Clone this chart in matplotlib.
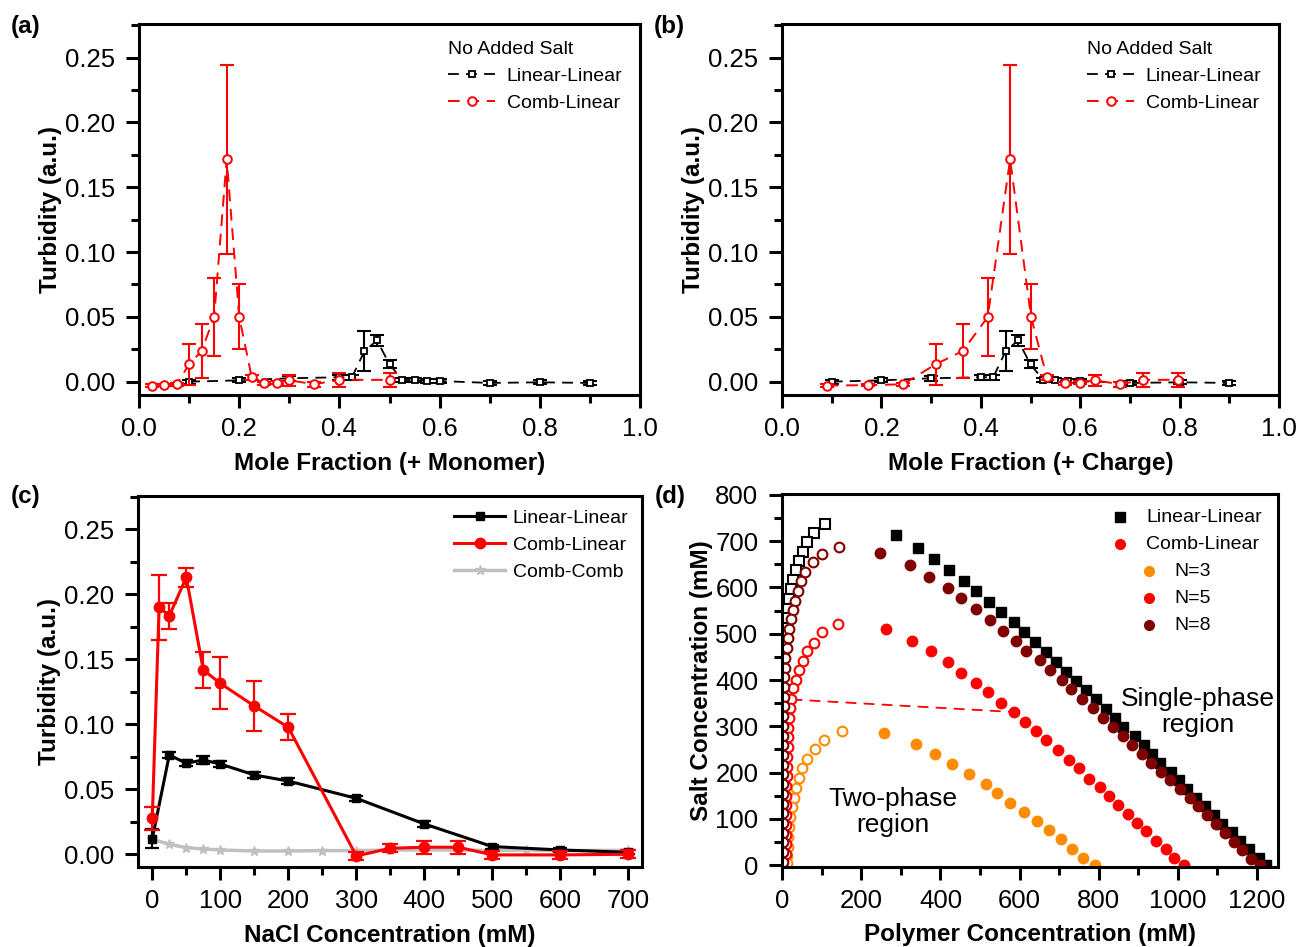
import matplotlib
matplotlib.use("Agg")
import matplotlib.pyplot as plt
from matplotlib.ticker import MultipleLocator, FormatStrFormatter

plt.rcParams['font.family'] = ['Liberation Sans', 'DejaVu Sans']

# ---- panels (a) and (b): no added salt ----
frac_ll = [0.1, 0.2, 0.3, 0.4, 0.425, 0.45, 0.475, 0.5, 0.525, 0.55, 0.575, 0.6, 0.7, 0.8, 0.9]
turb_ll = [0.0, 0.001, 0.0026, 0.0034, 0.0034, 0.0235, 0.0318, 0.0134, 0.0015, 0.001, 0.0008, 0.0005, -0.001, -0.0005, -0.001]
err_ll = [0.0015, 0.0015, 0.002, 0.002, 0.002, 0.0155, 0.0045, 0.003, 0.0015, 0.0015, 0.0015, 0.0015, 0.0015, 0.0015, 0.0015]

monomer_cl = [0.025, 0.05, 0.075, 0.1, 0.125, 0.15, 0.175, 0.2, 0.225, 0.25, 0.275, 0.3, 0.35, 0.4, 0.5]
charge_cl = [0.09, 0.174, 0.244, 0.309, 0.364, 0.414, 0.459, 0.501, 0.533, 0.569, 0.600, 0.630, 0.680, 0.727, 0.797]
turb_cl = [-0.003, -0.0027, -0.002, 0.0134, 0.0237, 0.050, 0.1716, 0.050, 0.0034, -0.0013, -0.0008, 0.001, -0.002, 0.0014, 0.0014]
err_cl = [0.001, 0.001, 0.001, 0.016, 0.021, 0.030, 0.073, 0.025, 0.002, 0.001, 0.001, 0.0045, 0.002, 0.0055, 0.0055]

# ---- panel (c): turbidity vs NaCl ----
nacl_ll = [0, 25, 50, 75, 100, 150, 200, 300, 400, 500, 600, 700]
turb_ll_c = [0.012, 0.0763, 0.070, 0.0725, 0.0694, 0.061, 0.0563, 0.043, 0.0233, 0.0059, 0.0033, 0.0015]
err_ll_c = [0.0075, 0.0025, 0.0025, 0.003, 0.0025, 0.002, 0.002, 0.002, 0.002, 0.0015, 0.0015, 0.0015]

nacl_cl = [0, 10, 25, 50, 75, 100, 150, 200, 300, 350, 400, 450, 500, 600, 700]
turb_cl_c = [0.0277, 0.190, 0.1834, 0.2129, 0.1417, 0.1314, 0.114, 0.0976, -0.0013, 0.0046, 0.0054, 0.0054, -0.0005, -0.0005, 0.0]
err_cl_c = [0.009, 0.025, 0.010, 0.0075, 0.014, 0.020, 0.019, 0.010, 0.003, 0.003, 0.005, 0.005, 0.003, 0.003, 0.003]

nacl_cc = [0, 25, 50, 75, 100, 150, 200, 250, 300, 350, 400, 450, 500, 550, 600, 700]
turb_cc = [0.0115, 0.0077, 0.0051, 0.004, 0.0033, 0.0025, 0.0025, 0.0028, 0.0028, 0.0033, 0.0033, 0.0033, 0.0028, 0.0033, 0.0028, 0.003]

# ---- panel (d): binodal phase diagrams ----
ll_left_x = [108, 80, 63, 51, 41, 34, 27, 21, 17, 13, 9]
ll_left_y = [737, 718, 699, 677, 658, 637, 616, 596, 575, 554, 533]
ll_right_x = [287, 342, 383, 422, 460, 491, 523, 552, 585, 611, 638, 668, 693, 717, 742, 769, 794, 818,
              841, 863, 891, 914, 936, 956, 984, 1003, 1024, 1046, 1070, 1091, 1113, 1137, 1158, 1180, 1205, 1224]
ll_right_y = [713, 686, 661, 638, 614, 592, 569, 546, 525, 504, 482, 461, 439, 418, 398, 378, 358, 338,
              317, 298, 279, 259, 241, 221, 202, 183, 164, 146, 128, 108, 89, 71, 52, 34, 16, 0]

n8_left_x = [144, 100, 78, 58, 48, 39, 32, 26, 21, 16, 13, 11, 7, 5.5, 4, 3.5, 3, 3, 2.5, 2.5, 2.5, 2, 2,
             2, 2, 1.5, 1.5, 1.5, 1.5, 1.5, 1.5, 1.5, 1.5, 1.5]
n8_left_y = [688, 672, 654, 634, 613, 592, 571, 551, 531, 510, 490, 470, 448, 427, 406, 385, 364, 343,
             322, 301, 280, 259, 238, 217, 196, 175, 154, 133, 112, 91, 70, 49, 28, 7]
n8_right_x = [246, 324, 371, 419, 453, 491, 526, 557, 592, 617, 651, 678, 708, 731, 759, 786, 810, 837,
              862, 885, 910, 933, 959, 981, 1005, 1032, 1051, 1075, 1096, 1119, 1142, 1164, 1186, 1208]
n8_right_y = [675, 649, 623, 598, 577, 553, 529, 507, 484, 463, 443, 422, 401, 381, 360, 339, 319, 299,
              279, 259, 241, 221, 201, 183, 164, 146, 128, 108, 89, 70, 50, 32, 14, 0]

n5_left_x = [140, 100, 80, 62, 51, 41, 34, 27, 22, 19, 17, 15, 14, 13, 12, 11, 10.5, 10, 9.5, 9, 9, 8.5, 8.5, 8, 8]
n5_left_y = [521, 503, 481, 463, 442, 422, 400, 382, 360, 340, 318, 297, 276, 255, 234, 213, 192, 171,
             150, 129, 108, 87, 66, 45, 24]
n5_right_x = [263, 329, 375, 418, 451, 491, 519, 552, 585, 613, 641, 668, 697, 725, 750, 776, 803, 826,
              849, 874, 898, 921, 946, 970, 992, 1015]
n5_right_y = [510, 484, 463, 439, 416, 394, 374, 351, 331, 310, 290, 270, 249, 228, 209, 187, 169, 149,
              130, 110, 92, 74, 53, 34, 16, 0]

n3_left_x = [152, 106, 82, 62, 49, 41, 34, 30, 24, 20, 17, 15, 13, 11, 10.5]
n3_left_y = [290, 270, 251, 230, 209, 189, 167, 146, 125, 104, 83, 61, 40, 19, 4]
n3_right_x = [257, 337, 386, 430, 472, 514, 544, 575, 611, 643, 675, 704, 733, 761, 792]
n3_right_y = [285, 261, 240, 218, 197, 176, 155, 135, 115, 95, 75, 56, 34, 16, 0]

tie_x = [23, 583]
tie_y = [358, 331]

W, H = 1305, 947
ORANGE = '#FF8C00'
DARKRED = '#800000'
DASH = (0, (6, 4))


def box(l, t, r, b):
    return [l / W, 1 - b / H, (r - l) / W, (b - t) / H]


def style_axes(ax):
    for s in ax.spines.values():
        s.set_linewidth(2.2)
    ax.tick_params(which='both', direction='out', width=2.2, labelsize=18.5)
    ax.tick_params(which='major', length=9.5)
    ax.tick_params(which='minor', length=5.5)
    ax.tick_params(axis='x', which='major', pad=6.5)
    ax.tick_params(axis='y', which='major', pad=7.5)


fig = plt.figure(figsize=(W / 100, H / 100), dpi=100)

# panels (a) and (b)
for pos, xdata, xlabel, tag in [((139, 24, 640, 395), monomer_cl, 'Mole Fraction (+ Monomer)', '(a)'),
                                 ((782, 24, 1279, 395), charge_cl, 'Mole Fraction (+ Charge)', '(b)')]:
    ax = fig.add_axes(box(*pos))
    ax.errorbar(frac_ll, turb_ll, yerr=err_ll, fmt='none', ecolor='black', elinewidth=1.5,
                capsize=5, capthick=1.5)
    ax.plot(frac_ll, turb_ll, color='black', ls=DASH, lw=1.3, marker='s', ms=4.8,
            mfc='white', mec='black', mew=1.3, label='Linear-Linear')
    ax.errorbar(xdata, turb_cl, yerr=err_cl, fmt='none', ecolor='red', elinewidth=1.5,
                capsize=5, capthick=1.5)
    ax.plot(xdata, turb_cl, color='red', ls=DASH, lw=1.4, marker='o', ms=6.2,
            mfc='white', mec='red', mew=1.4, label='Comb-Linear')
    ax.set_xlim(0, 1.0)
    ax.set_ylim(-0.0103, 0.276)
    ax.xaxis.set_major_locator(MultipleLocator(0.2))
    ax.xaxis.set_minor_locator(MultipleLocator(0.1))
    ax.yaxis.set_major_locator(MultipleLocator(0.05))
    ax.yaxis.set_minor_locator(MultipleLocator(0.025))
    ax.xaxis.set_major_formatter(FormatStrFormatter('%.1f'))
    ax.yaxis.set_major_formatter(FormatStrFormatter('%.2f'))
    style_axes(ax)
    ax.set_xlabel(xlabel, fontsize=17.5, fontweight='bold', labelpad=8)
    ax.set_ylabel('Turbidity (a.u.)', fontsize=17.5, fontweight='bold', labelpad=2)
    ax.legend(title='No Added Salt', loc='upper right', frameon=False, fontsize=14,
              title_fontsize=14, handlelength=2.4, handletextpad=0.6, labelspacing=0.5,
              alignment='left', borderaxespad=0.3, bbox_to_anchor=(0.992, 0.992))
    fig.text((pos[0] - 128) / W, 1 - 26 / H, tag, fontsize=17.5, fontweight='bold', va='center')

# panel (c)
ax = fig.add_axes(box(138, 496, 642, 867))
ax.plot(nacl_cc, turb_cc, color='#C0C0C0', lw=2.5, marker='*', ms=7, label='Comb-Comb')
ax.errorbar(nacl_ll, turb_ll_c, yerr=err_ll_c, fmt='none', ecolor='black', elinewidth=1.6,
            capsize=5, capthick=1.6)
ax.plot(nacl_ll, turb_ll_c, color='black', lw=2.2, marker='s', ms=5.5, label='Linear-Linear')
ax.errorbar(nacl_cl, turb_cl_c, yerr=err_cl_c, fmt='none', ecolor='red', elinewidth=1.6,
            capsize=6, capthick=1.6)
ax.plot(nacl_cl, turb_cl_c, color='red', lw=2.2, marker='o', ms=7.5, label='Comb-Linear')
ax.set_xlim(-21, 720)
ax.set_ylim(-0.0098, 0.2755)
ax.xaxis.set_major_locator(MultipleLocator(100))
ax.xaxis.set_minor_locator(MultipleLocator(50))
ax.yaxis.set_major_locator(MultipleLocator(0.05))
ax.yaxis.set_minor_locator(MultipleLocator(0.025))
ax.yaxis.set_major_formatter(FormatStrFormatter('%.2f'))
style_axes(ax)
ax.set_xlabel('NaCl Concentration (mM)', fontsize=17.5, fontweight='bold', labelpad=7.5)
ax.set_ylabel('Turbidity (a.u.)', fontsize=17.5, fontweight='bold', labelpad=2)
h, l = ax.get_legend_handles_labels()
order = [1, 2, 0]
ax.legend([h[i] for i in order], [l[i] for i in order], loc='upper right', frameon=False,
          fontsize=14, handlelength=2.6, handletextpad=0.4, labelspacing=0.47, borderaxespad=0.3)
fig.text(11 / W, 1 - 496 / H, '(c)', fontsize=17.5, fontweight='bold', va='center')

# panel (d)
ax = fig.add_axes(box(782, 494, 1278, 867))
ax.plot(tie_x, tie_y, color='red', ls=DASH, lw=1.3)
ax.plot(ll_left_x, ll_left_y, ls='none', marker='s', ms=6.5, mfc='white', mec='black', mew=1.5)
ax.plot(ll_right_x, ll_right_y, ls='none', marker='s', ms=6.5, color='black')
for lx, ly, rx, ry, c in [(n3_left_x, n3_left_y, n3_right_x, n3_right_y, ORANGE),
                          (n5_left_x, n5_left_y, n5_right_x, n5_right_y, 'red'),
                          (n8_left_x, n8_left_y, n8_right_x, n8_right_y, DARKRED)]:
    ax.plot(lx, ly, ls='none', marker='o', ms=7, mfc='white', mec=c, mew=1.5)
    ax.plot(rx, ry, ls='none', marker='o', ms=7.5, color=c)
ax.set_xlim(-1, 1254)
ax.set_ylim(-4, 802)
ax.xaxis.set_major_locator(MultipleLocator(200))
ax.xaxis.set_minor_locator(MultipleLocator(100))
ax.yaxis.set_major_locator(MultipleLocator(100))
ax.yaxis.set_minor_locator(MultipleLocator(50))
style_axes(ax)
ax.set_xlabel('Polymer Concentration (mM)', fontsize=17.5, fontweight='bold', labelpad=7)
ax.set_ylabel('Salt Concentration (mM)', fontsize=17.5, fontweight='bold', labelpad=1.5)
ax.text(1051, 331, 'Single-phase\nregion', fontsize=19, ha='center', va='center', linespacing=1.15)
ax.text(279, 115, 'Two-phase\nregion', fontsize=19, ha='center', va='center', linespacing=1.15)

# manual legend for (d)
leg_items = [('s', 'black', 'Linear-Linear', 0.0), ('o', 'red', 'Comb-Linear', 0.0),
             ('o', ORANGE, 'N=3', 0.058), ('o', 'red', 'N=5', 0.058), ('o', DARKRED, 'N=8', 0.058)]
for i, (m, c, txt, dx) in enumerate(leg_items):
    yy = 0.938 - i * 0.0724
    ax.plot([0.681 + dx], [yy], transform=ax.transAxes, marker=m, color=c, ms=7 if m == 'o' else 6.5,
            ls='none', clip_on=False)
    ax.text(0.734 + dx, yy, txt, transform=ax.transAxes, fontsize=14, va='center')
fig.text(655 / W, 1 - 496 / H, '(d)', fontsize=17.5, fontweight='bold', va='center')

fig.savefig('out.png', dpi=100)
